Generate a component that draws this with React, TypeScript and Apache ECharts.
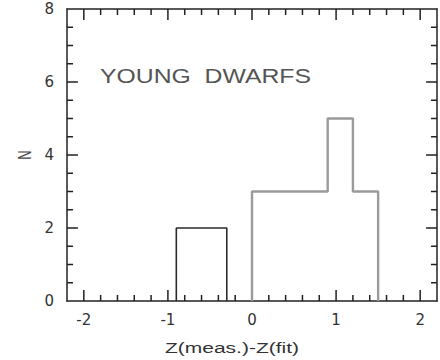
import React, { useEffect, useRef } from "react";
import * as echarts from "echarts";

// Histogram bins: edges and counts per group
const blackEdges = [-0.9, -0.3];
const blackCounts = [2];
const grayEdges = [0, 0.9, 1.2, 1.5];
const grayCounts = [3, 5, 3];

// Axis ticks
const xMajorTicks = [-2, -1, 0, 1, 2];
const xMinorTicks = [
  -1.8, -1.6, -1.4, -1.2, -0.8, -0.6, -0.4, -0.2,
  0.2, 0.4, 0.6, 0.8, 1.2, 1.4, 1.6, 1.8,
];
const xLabels = ["-2", "-1", "0", "1", "2"];
const yMajorTicks = [2, 4, 6];
const yMinorTicks = [0.5, 1, 1.5, 2.5, 3, 3.5, 4.5, 5, 5.5, 6.5, 7, 7.5];

const X_MIN = -2.2;
const X_MAX = 2.2;
const Y_MIN = 0;
const Y_MAX = 8;

// Inward tick lengths, in axis units
const X_TICK_MAJOR = 0.3; // vertical ticks on the bottom/top frame (N units)
const X_TICK_MINOR = 0.165;
const Y_TICK_MAJOR = 0.13; // horizontal ticks on the left/right frame (Z units)
const Y_TICK_MINOR = 0.072;

const xTitle = "Z(meas.)-Z(fit)";
const yTitle = "N";
const panelLabel = "YOUNG  DWARFS";

// Outline of a histogram as a stepped polyline from bin edges and counts
function stepOutline(edges: number[], counts: number[]): number[][] {
  const pts: number[][] = [[edges[0], 0]];
  counts.forEach((c, i) => {
    pts.push([edges[i], c]);
    pts.push([edges[i + 1], c]);
  });
  pts.push([edges[edges.length - 1], 0]);
  return pts;
}

// Frame ticks as broken polyline segments ('-' separates them)
function frameTicks(): any[] {
  const out: any[] = [];
  const addX = (v: number, len: number) => {
    out.push([v, Y_MIN], [v, Y_MIN + len], "-");
    out.push([v, Y_MAX], [v, Y_MAX - len], "-");
  };
  const addY = (v: number, len: number) => {
    out.push([X_MIN, v], [X_MIN + len, v], "-");
    out.push([X_MAX, v], [X_MAX - len, v], "-");
  };
  xMajorTicks.forEach((v) => addX(v, X_TICK_MAJOR));
  xMinorTicks.forEach((v) => addX(v, X_TICK_MINOR));
  yMajorTicks.forEach((v) => addY(v, Y_TICK_MAJOR));
  yMinorTicks.forEach((v) => addY(v, Y_TICK_MINOR));
  return out;
}

const FONT = "'Liberation Sans', Arial, sans-serif";
const AXIS_COLOR = "#222";

const stroke = () => ({ color: AXIS_COLOR, width: 1.5 });

export default function App() {
  const ref = useRef<HTMLDivElement>(null);

  useEffect(() => {
    if (!ref.current) return;
    const chart = echarts.init(ref.current, undefined, { renderer: "svg" });

    chart.setOption({
      animation: false,
      grid: [{ left: 67, right: 3, top: 9, bottom: 59 }],
      xAxis: [
        {
          gridIndex: 0,
          type: "value",
          min: X_MIN,
          max: X_MAX,
          position: "bottom",
          splitLine: { show: false },
          axisLine: { show: true, onZero: false, lineStyle: stroke() },
          axisTick: { show: false },
          axisLabel: {
            show: true,
            customValues: xMajorTicks.slice(),
            formatter: (v: number) => xLabels[xMajorTicks.indexOf(Math.round(v))] ?? "",
            fontFamily: "'DejaVu Sans', sans-serif",
            fontSize: 15,
            color: "#333",
            margin: 11,
          },
        },
        {
          gridIndex: 0,
          type: "value",
          min: X_MIN,
          max: X_MAX,
          position: "top",
          splitLine: { show: false },
          axisLine: { show: true, onZero: false, lineStyle: stroke() },
          axisTick: { show: false },
          axisLabel: { show: false },
        },
      ],
      yAxis: [
        {
          gridIndex: 0,
          type: "value",
          min: Y_MIN,
          max: Y_MAX,
          interval: 2,
          position: "left",
          splitLine: { show: false },
          axisLine: { show: true, onZero: false, lineStyle: stroke() },
          axisTick: { show: false },
          axisLabel: {
            show: true,
            fontFamily: "'DejaVu Sans', sans-serif",
            fontSize: 15,
            color: "#333",
            margin: 13,
          },
        },
        {
          gridIndex: 0,
          type: "value",
          min: Y_MIN,
          max: Y_MAX,
          interval: 2,
          position: "right",
          splitLine: { show: false },
          axisLine: { show: true, onZero: false, lineStyle: stroke() },
          axisTick: { show: false },
          axisLabel: { show: false },
        },
      ],
      series: [
        {
          type: "line",
          xAxisIndex: 0,
          yAxisIndex: 0,
          data: frameTicks(),
          connectNulls: false,
          showSymbol: false,
          symbol: "none",
          clip: false,
          silent: true,
          lineStyle: { color: AXIS_COLOR, width: 1.5 },
        },
        {
          type: "line",
          xAxisIndex: 0,
          yAxisIndex: 0,
          data: stepOutline(blackEdges, blackCounts),
          showSymbol: false,
          symbol: "none",
          lineStyle: { color: "#2a2a2a", width: 1.6 },
        },
        {
          type: "line",
          xAxisIndex: 0,
          yAxisIndex: 0,
          data: stepOutline(grayEdges, grayCounts),
          showSymbol: false,
          symbol: "none",
          lineStyle: { color: "#9a9a9a", width: 2.4 },
        },
      ],
      graphic: [
        {
          type: "text",
          x: 100,
          y: 76,
          scaleX: 1.18,
          style: {
            text: panelLabel,
            font: `21px ${FONT}`,
            fill: "#555",
            align: "left",
            verticalAlign: "middle",
          },
        },
        {
          type: "text",
          x: 232,
          y: 348,
          scaleX: 1.4,
          style: {
            text: xTitle,
            font: `15px ${FONT}`,
            fill: "#333",
            align: "center",
            verticalAlign: "middle",
          },
        },
        {
          type: "text",
          x: 25,
          y: 155,
          rotation: Math.PI / 2,
          scaleY: 1.4,
          style: {
            text: yTitle,
            font: `13px ${FONT}`,
            fill: "#444",
            align: "center",
            verticalAlign: "middle",
          },
        },
      ],
    });

    return () => chart.dispose();
  }, []);

  return (
    <div
      ref={ref}
      style={{ position: "absolute", left: 0, top: 0, width: 440, height: 360, background: "#fff" }}
    />
  );
}
